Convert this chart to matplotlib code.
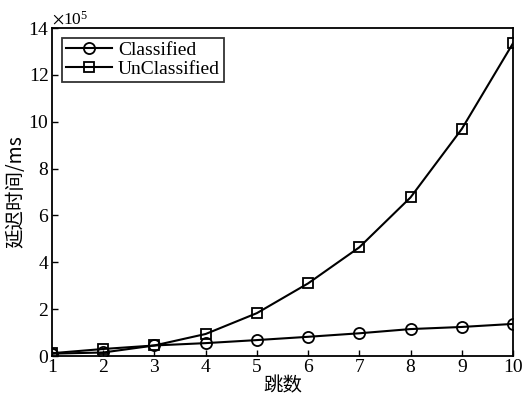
import matplotlib
matplotlib.use("Agg")
import matplotlib.pyplot as plt
from matplotlib.ticker import ScalarFormatter

plt.rcParams['font.family'] = ['Liberation Serif', 'Noto Sans CJK SC']
plt.rcParams['mathtext.fontset'] = 'stix'

hops = [1, 2, 3, 4, 5, 6, 7, 8, 9, 10]
classified = [0.10e5, 0.15e5, 0.45e5, 0.55e5, 0.68e5, 0.82e5, 0.97e5, 1.15e5, 1.24e5, 1.37e5]
unclassified = [0.12e5, 0.30e5, 0.45e5, 0.94e5, 1.83e5, 3.10e5, 4.64e5, 6.77e5, 9.69e5, 13.35e5]

fig = plt.figure(figsize=(5.24, 3.98), dpi=100)
ax = fig.add_axes([0.0992, 0.1055, 0.8798, 0.8241])

ax.plot(hops, classified, '-o', color='black', lw=1.5, ms=8, mfc='none', mew=1.3, label='Classified')
ax.plot(hops, unclassified, '-s', color='black', lw=1.5, ms=7, mfc='none', mew=1.3, label='UnClassified')

ax.set_xlim(1, 10)
ax.set_ylim(0, 14e5)
ax.set_xticks(hops)
ax.set_yticks([0, 2e5, 4e5, 6e5, 8e5, 10e5, 12e5, 14e5])
fmt = ScalarFormatter(useMathText=True)
fmt.set_powerlimits((5, 5))
ax.yaxis.set_major_formatter(fmt)
ax.yaxis.get_offset_text().set_fontsize(12.5)

ax.tick_params(direction='in', length=4, width=1, labelsize=14, top=False, right=False, pad=2)
for s in ax.spines.values():
    s.set_linewidth(1.3)

ax.set_xlabel('跳数', fontsize=14, family=['Noto Sans CJK SC'], labelpad=0)
ax.set_ylabel('延迟时间/ms', fontsize=14, family=['Noto Sans CJK SC', 'Liberation Serif'], labelpad=1)

leg = ax.legend(loc='upper left', fontsize=14, frameon=True, fancybox=False, edgecolor='black',
                handlelength=2.4, borderpad=0.2, labelspacing=0.05, handletextpad=0.3, borderaxespad=0.5)
leg.get_frame().set_linewidth(1.3)

fig.savefig('out.png', dpi=100)
